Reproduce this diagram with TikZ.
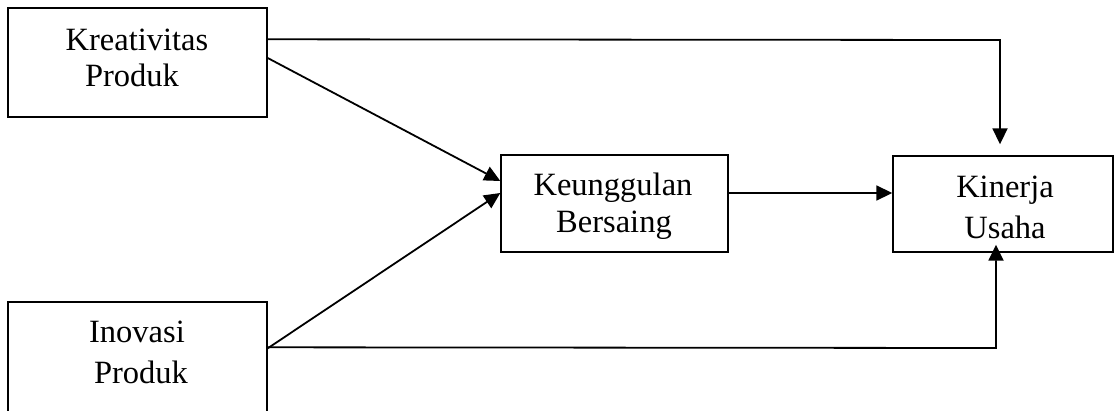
\documentclass[tikz,border=0pt]{standalone}
\usepackage{fontspec}
\setmainfont{Liberation Serif}
\usetikzlibrary{arrows.meta}
\begin{document}
\begin{tikzpicture}[x=1pt,y=-1pt,
  box/.style={draw,line width=1.4pt,rectangle,inner sep=0pt},
  lbl/.style={anchor=base,inner sep=0pt,font=\fontsize{32.5}{36}\selectfont},
  arr/.style={line width=1.8pt,-{Triangle[length=16pt,width=15pt]}}]
\useasboundingbox (0,0) rectangle (1114,410);
\clip (0,0) rectangle (1114,410);
% boxes
\node[box,minimum width=259pt,minimum height=109pt] (kp) at (137.5,62.5) {};
\node[box,minimum width=259pt,minimum height=130pt] (ip) at (137.5,367) {};
\node[box,minimum width=227pt,minimum height=97pt] (kb) at (614.5,203.5) {};
\node[box,minimum width=220pt,minimum height=96pt] (ku) at (1003,204) {};
% texts
\node[lbl] (kp1) at (137,50) {Kreativitas};
\node[lbl] (kp2) at (132,86) {Produk};
\node[lbl] (ip1) at (137,342) {Inovasi};
\node[lbl] (ip2) at (141,383) {Produk};
\node[lbl] (kb1) at (613,195) {Keunggulan};
\node[lbl] (kb2) at (614,232) {Bersaing};
\node[lbl] (ku1) at (1005,197) {Kinerja};
\node[lbl] (ku2) at (1005,238) {Usaha};
% connectors
\coordinate (ctop) at (1000,40);
\coordinate (cbot) at (996,348);
\draw[arr,shorten >=11pt] ([yshift=-32pt]kp.north east) -- (ctop) -- (ctop |- ku.north);
\draw[arr] ([yshift=4.5pt]kp.east) -- ([yshift=22.5pt]kb.west);
\draw[arr] ([yshift=-47pt]ip.north east) -- ([yshift=10.5pt]kb.west);
\draw[arr] ([yshift=10.5pt]kb.east) -- ([yshift=10.5pt]kb.east -| ku.west);
\draw[arr,shorten >=-8pt] ([yshift=-46pt]ip.north east) -- (cbot) -- (cbot |- ku.south);
\end{tikzpicture}
\end{document}
